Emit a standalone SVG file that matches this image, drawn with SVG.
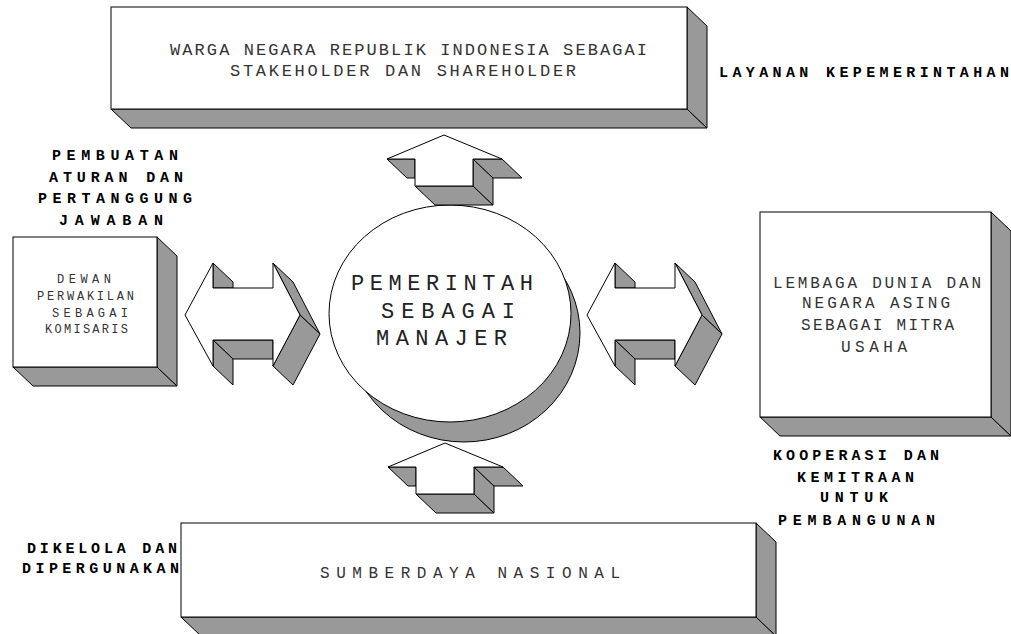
<svg xmlns="http://www.w3.org/2000/svg" width="1011" height="634" viewBox="0 0 1011 634">
<style>
.face{fill:#999;stroke:#000;stroke-width:1;stroke-linejoin:miter}
.front{fill:#fff;stroke:#000;stroke-width:1}
.t{font-family:"Liberation Mono","Courier New",monospace;fill:#333}
.lbl{font-family:"Liberation Mono","Courier New",monospace;font-weight:bold;font-size:15px;fill:#000}
</style>
<rect width="1011" height="634" fill="#fff"/>

<g id="node-top">
  <polygon class="face" points="111,109 131,128 707,128 687,109"/>
  <polygon class="face" points="687,7 707,26 707,128 687,109"/>
  <rect class="front" x="111" y="7" width="576" height="102"/>
  <text class="t" font-size="17" x="170" y="55" textLength="477" lengthAdjust="spacing">WARGA NEGARA REPUBLIK INDONESIA SEBAGAI</text>
  <text class="t" font-size="17" x="230" y="76" textLength="346" lengthAdjust="spacing">STAKEHOLDER DAN SHAREHOLDER</text>
</g>

<g id="node-left">
  <polygon class="face" points="13,367 33,386 177,386 157,367"/>
  <polygon class="face" points="157,237 177,256 177,386 157,367"/>
  <rect class="front" x="13" y="237" width="144" height="130"/>
  <text class="t" font-size="12" x="57" y="283" textLength="54" lengthAdjust="spacing">DEWAN</text>
  <text class="t" font-size="12" x="37" y="300" textLength="97" lengthAdjust="spacing">PERWAKILAN</text>
  <text class="t" font-size="12" x="52" y="317" textLength="76" lengthAdjust="spacing">SEBAGAI</text>
  <text class="t" font-size="12" x="45" y="333" textLength="83" lengthAdjust="spacing">KOMISARIS</text>
</g>

<g id="node-center">
  <ellipse cx="464" cy="333" rx="116" ry="109" class="face"/>
  <ellipse cx="450" cy="313.5" rx="121" ry="108.5" class="front"/>
  <text class="t" font-size="22" style="fill:#222" x="351" y="290" textLength="182" lengthAdjust="spacing">PEMERINTAH</text>
  <text class="t" font-size="22" style="fill:#222" x="381" y="318" textLength="134" lengthAdjust="spacing">SEBAGAI</text>
  <text class="t" font-size="22" style="fill:#222" x="376" y="345" textLength="131" lengthAdjust="spacing">MANAJER</text>
</g>

<g id="node-right">
  <polygon class="face" points="760,417 780,436 1011,436 991,417"/>
  <polygon class="face" points="991,212 1011,231 1011,436 991,417"/>
  <rect class="front" x="760" y="212" width="231" height="205"/>
  <text class="t" font-size="16" x="773" y="288" textLength="208" lengthAdjust="spacing">LEMBAGA DUNIA DAN</text>
  <text class="t" font-size="16" x="802" y="308" textLength="148" lengthAdjust="spacing">NEGARA ASING</text>
  <text class="t" font-size="16" x="801" y="330" textLength="153" lengthAdjust="spacing">SEBAGAI MITRA</text>
  <text class="t" font-size="16" x="841" y="352" textLength="66" lengthAdjust="spacing">USAHA</text>
</g>

<g id="node-bottom">
  <polygon class="face" points="181,617 201,636 776,636 756,617"/>
  <polygon class="face" points="756,523 776,542 776,636 756,617"/>
  <rect class="front" x="181" y="523" width="575" height="94"/>
  <text class="t" font-size="16" x="320" y="578" textLength="300" lengthAdjust="spacing">SUMBERDAYA NASIONAL</text>
</g>

<g id="labels">
  <text class="lbl" x="719" y="77" textLength="290" lengthAdjust="spacing">LAYANAN KEPEMERINTAHAN</text>
  <text class="lbl" x="52" y="160" textLength="126" lengthAdjust="spacing">PEMBUATAN</text>
  <text class="lbl" x="49" y="182" textLength="134" lengthAdjust="spacing">ATURAN DAN</text>
  <text class="lbl" x="38" y="203" textLength="154" lengthAdjust="spacing">PERTANGGUNG</text>
  <text class="lbl" x="59" y="225" textLength="104" lengthAdjust="spacing">JAWABAN</text>
  <text class="lbl" x="773" y="460" textLength="166" lengthAdjust="spacing">KOOPERASI DAN</text>
  <text class="lbl" x="797" y="482" textLength="117" lengthAdjust="spacing">KEMITRAAN</text>
  <text class="lbl" x="820" y="502" textLength="68" lengthAdjust="spacing">UNTUK</text>
  <text class="lbl" x="778" y="525" textLength="157" lengthAdjust="spacing">PEMBANGUNAN</text>
  <text class="lbl" x="27" y="553" textLength="150" lengthAdjust="spacing">DIKELOLA DAN</text>
  <text class="lbl" x="22" y="573" textLength="157" lengthAdjust="spacing">DIPERGUNAKAN</text>
</g>

<g id="connectors">
  <g id="arrow-left">
    <polygon class="face" points="213,340 273,340 273,359 233,359"/>
    <polygon class="face" points="213,340 233,359 233,385 213,366"/>
    <polygon class="face" points="213,263 233,282 233,288 213,288"/>
    <polygon class="face" points="273,263 293,282 320,334 300,315"/>
    <polygon class="face" points="300,315 320,334 293,385 273,366"/>
    <polygon class="front" points="185,315 213,263 213,288 273,288 273,263 300,315 273,366 273,340 213,340 213,366"/>
  </g>
  <g id="arrow-right" transform="translate(402,0)">
    <polygon class="face" points="213,340 273,340 273,359 233,359"/>
    <polygon class="face" points="213,340 233,359 233,385 213,366"/>
    <polygon class="face" points="213,263 233,282 233,288 213,288"/>
    <polygon class="face" points="273,263 293,282 320,334 300,315"/>
    <polygon class="face" points="300,315 320,334 293,385 273,366"/>
    <polygon class="front" points="185,315 213,263 213,288 273,288 273,263 300,315 273,366 273,340 213,340 213,366"/>
  </g>
  <g id="arrow-top">
    <polygon class="face" points="387,159 415,159 415,178 407,178"/>
    <polygon class="face" points="415,186 473,186 493,205 435,205"/>
    <polygon class="face" points="473,159 493,178 493,205 473,186"/>
    <polygon class="face" points="473,159 502,159 522,178 493,178"/>
    <polygon class="front" points="444,135 502,159 473,159 473,186 415,186 415,159 387,159"/>
  </g>
  <g id="arrow-bottom" transform="translate(1,308)">
    <polygon class="face" points="387,159 415,159 415,178 407,178"/>
    <polygon class="face" points="415,186 473,186 493,205 435,205"/>
    <polygon class="face" points="473,159 493,178 493,205 473,186"/>
    <polygon class="face" points="473,159 502,159 522,178 493,178"/>
    <polygon class="front" points="444,135 502,159 473,159 473,186 415,186 415,159 387,159"/>
  </g>
</g>
</svg>
